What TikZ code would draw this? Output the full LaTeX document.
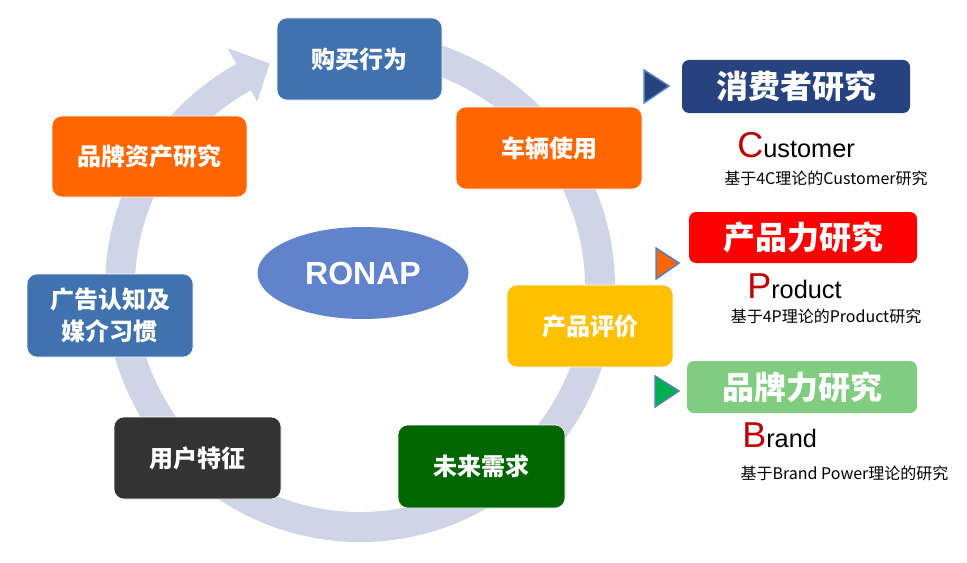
\documentclass[tikz,border=0pt]{standalone}
\usepackage{fontspec}
\setmainfont{Liberation Sans}
\newfontfamily\cjk{Noto Sans CJK SC}
\usetikzlibrary{shapes.geometric, calc}
\definecolor{ringgrey}{RGB}{207,213,230}
\definecolor{boxblue}{RGB}{65,114,176}
\definecolor{boxorange}{RGB}{255,102,0}
\definecolor{boxyellow}{RGB}{255,192,0}
\definecolor{boxgreen}{RGB}{0,102,0}
\definecolor{boxdark}{RGB}{51,51,51}
\definecolor{ellblue}{RGB}{96,131,204}
\definecolor{navy}{RGB}{38,67,128}
\definecolor{lightgreen}{RGB}{128,204,128}
\definecolor{triborder}{RGB}{79,129,189}
\definecolor{trigreen}{RGB}{0,176,80}
\definecolor{letterred}{RGB}{192,0,0}
\newcommand{\px}{0.75pt}

\begin{document}
\begin{tikzpicture}[x=0.75pt, y=0.75pt,
    stage/.style={rounded corners=10*\px, draw=white, thin, text=white, align=center,
        font=\cjk\bfseries\fontsize{18}{24}\selectfont, inner sep=0pt},
    study/.style={rounded corners=7*\px, text=white, inner sep=0pt,
        font=\cjk\bfseries\fontsize{24}{24}\selectfont},
    tri/.style={draw=triborder, line width=1.5*\px, line join=miter},
    note/.style={inner sep=0pt, font=\cjk\fontsize{12}{12}\selectfont}]

    \useasboundingbox (0,0) rectangle (967,562);

    % ring with arrow
    \coordinate (o) at (360,275);
    \fill[ringgrey] (o) ++(118:255) arc (118:465:255) -- ($(o)+(465:225)$) arc (465:118:225) -- cycle;
    \fill[ringgrey] (o) ++(119:273) -- ($(o)+(112:241)$) -- ($(o)+(119:212)$) -- cycle;

    \node[ellipse, fill=ellblue, minimum width=211*\px, minimum height=92*\px, text=white,
        font=\bfseries\fontsize{24}{24}\selectfont] (ronap) at (363,289) {RONAP};

    \node[stage, fill=boxblue, minimum width=165*\px, minimum height=82*\px] (buy) at (359.5,503) {购买行为};
    \node[stage, fill=boxorange, minimum width=186*\px, minimum height=82*\px] (use) at (549,414) {车辆使用};
    \node[stage, fill=boxyellow, minimum width=166*\px, minimum height=82*\px] (eval) at (590,236) {产品评价};
    \node[stage, fill=boxgreen, minimum width=167*\px, minimum height=83*\px] (future) at (481.5,95.5) {未来需求};
    \node[stage, fill=boxdark, minimum width=167*\px, minimum height=82*\px] (user) at (197.5,104) {用户特征};
    \node[stage, fill=boxblue, minimum width=166*\px, minimum height=83*\px] (media) at (110,246.5) {广告认知及\\媒介习惯};
    \node[stage, fill=boxorange, minimum width=195*\px, minimum height=81*\px] (equity) at (149.5,405.5) {品牌资产研究};

    % right column
    \draw[tri, fill=navy] (644,492) -- (669,476) -- (644,459) -- cycle;
    \draw[tri, fill=boxorange] (656,314) -- (679,299) -- (656,283) -- cycle;
    \draw[tri, fill=trigreen] (655,186) -- (679,171) -- (655,155) -- cycle;

    \node[study, fill=navy, minimum width=228*\px, minimum height=53*\px] (consumer) at (796,475.5) {消费者研究};
    \node[study, fill=red, minimum width=228*\px, minimum height=51*\px] (product) at (803,324.5) {产品力研究};
    \node[study, fill=lightgreen, minimum width=230*\px, minimum height=52*\px] (brand) at (802,175) {品牌力研究};

    \node[inner sep=0pt, anchor=base west] (c) at (737,405)
        {{\color{letterred}\fontsize{27}{27}\selectfont C}\fontsize{19}{19}\selectfont ustomer};
    \node[note] (cnote) at (826,384) {基于4C理论的Customer研究};
    \node[inner sep=0pt, anchor=base west] (p) at (747,264)
        {{\color{letterred}\fontsize{27}{27}\selectfont P}\fontsize{19}{19}\selectfont roduct};
    \node[note] (pnote) at (826,246) {基于4P理论的Product研究};
    \node[inner sep=0pt, anchor=base west] (b) at (742,115)
        {{\color{letterred}\fontsize{27}{27}\selectfont B}\fontsize{19}{19}\selectfont rand};
    \node[note] (bnote) at (844.5,89) {基于Brand Power理论的研究};

\end{tikzpicture}
\end{document}
